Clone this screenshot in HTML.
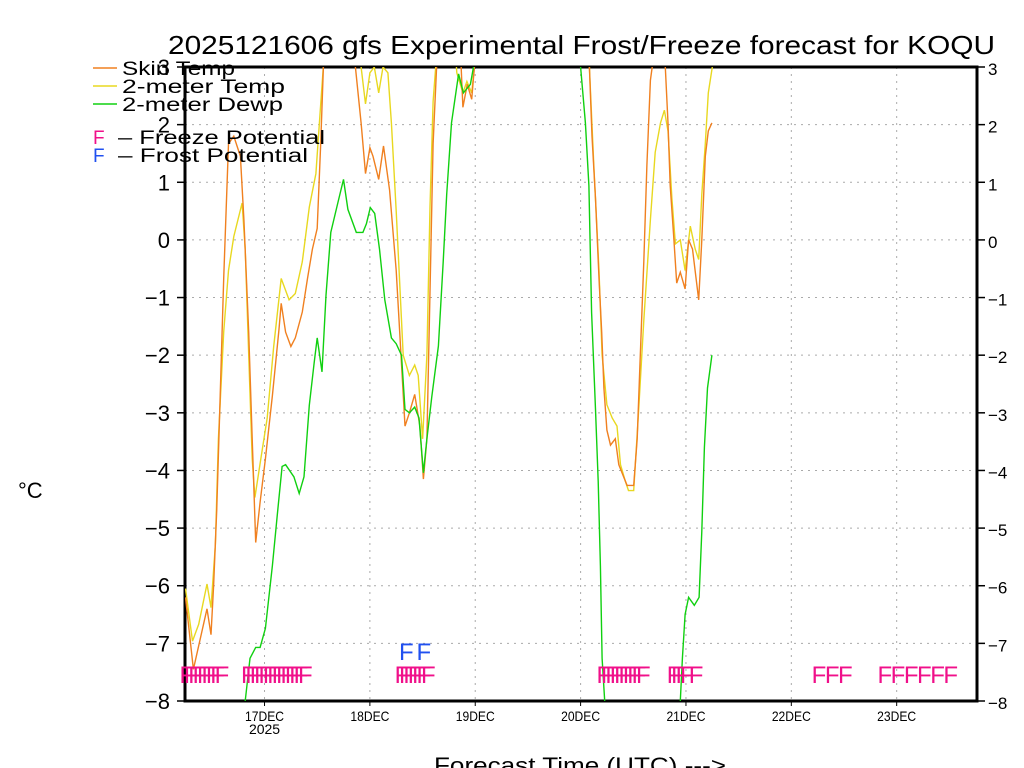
<!DOCTYPE html>
<html><head><meta charset="utf-8"><style>
html,body{margin:0;padding:0;background:#fff;}
svg{display:block;font-family:"Liberation Sans",sans-serif;}
</style></head><body>
<svg id="chart" width="1024" height="768" viewBox="0 0 1024 768" xmlns="http://www.w3.org/2000/svg">
<defs><clipPath id="plotclip"><rect x="185" y="67" width="792" height="634"/></clipPath></defs>
<rect width="1024" height="768" fill="#fff"/>
<text x="168" y="54" font-size="26" textLength="827" lengthAdjust="spacingAndGlyphs">2025121606 gfs Experimental Frost/Freeze forecast for KOQU</text>
<g id="grid"></g>
<g id="axes"></g>
<g id="series" clip-path="url(#plotclip)"></g>
<g id="marks"></g>
<g font-size="19">
<line x1="93" y1="68" x2="117" y2="68" stroke="#f08020" stroke-width="1.5"/>
<text x="122" y="75" textLength="113" lengthAdjust="spacingAndGlyphs">Skin Temp</text>
<line x1="93" y1="86" x2="117" y2="86" stroke="#e8d820" stroke-width="1.5"/>
<text x="122" y="93" textLength="163" lengthAdjust="spacingAndGlyphs">2-meter Temp</text>
<line x1="93" y1="104" x2="117" y2="104" stroke="#10d010" stroke-width="1.5"/>
<text x="122" y="111" textLength="161" lengthAdjust="spacingAndGlyphs">2-meter Dewp</text>
<text x="93" y="144" fill="#f0108a">F</text>
<text x="118" y="144" textLength="207" lengthAdjust="spacingAndGlyphs">– Freeze Potential</text>
<text x="93" y="162" fill="#2050f0">F</text>
<text x="118" y="162" textLength="190" lengthAdjust="spacingAndGlyphs">– Frost Potential</text>
</g>
<text x="18" y="498" font-size="22">°C</text>
<text x="434" y="773" font-size="22" textLength="292" lengthAdjust="spacingAndGlyphs">Forecast Time (UTC) ---&gt;</text>
</svg>
<script>
// hours since 16DEC 06Z
const skinHours1=[0,1.8,4.9,5.8,6.4,7.1,7.9,8.7,9.8,11,12.5,13.3,14.4,15.2,16,17,18.2,19.8,21.3,21.8,22.8,24,25,26.6,27.8,28.9,30,30.8,31.6,38,38.7,40,41,42,42.7,44,45.1,46.5,48,48.8,50,51,52.2,53.4,54.2,55,55.7,56.4,57.2,58,62.5,63.2,64.2,65.2,65.8,66.5];
const skinVals1=[-6.2,-7.45,-6.4,-6.85,-6,-4.7,-2.7,-0.67,1.67,1.8,1.45,0.35,-1.6,-3.45,-5.25,-4.55,-3.8,-2.7,-1.55,-1.1,-1.6,-1.85,-1.7,-1.25,-0.67,-0.16,0.2,1.67,3.4,3.4,3,2.03,1.15,1.6,1.45,1.05,1.63,0.86,-0.53,-1.6,-3.23,-3,-2.68,-3.23,-4.15,-3.45,-0.9,1.67,3,3.5,3.5,2.3,2.7,2.44,3,3.5];
const skinHours2=[91.5,92,92.3,92.6,93.4,94.2,94.8,95.3,96,96.8,97.9,98.7,99.8,100.6,102.1,102.9,103.6,104.4,105.1,105.9,106.3,107,108.5,109.3,109.9,110.4,111.2,111.9,112.7,113.8,114.6,115.5,116.9,117.6,118.4,119.1,119.9];
const skinVals2=[3.5,3,2.4,1.8,0.72,-0.67,-1.6,-2.57,-3.3,-3.56,-3.45,-3.9,-4.11,-4.26,-4.26,-3.45,-2,-0.38,1.3,2.77,3,3.5,3.5,3,2.03,0.94,0.06,-0.75,-0.56,-0.85,0,-0.16,-1.04,0,1.45,1.89,2.03];
const tempHours1=[0,1.6,3,4.9,5.8,6.8,7.5,8.7,9.8,11,12.9,13.6,14.4,15.2,15.8,17,18.6,20.1,21.8,23.6,25,26.6,28.2,29.7,30.5,31.4,32,39.5,40,41,42,43,44,45,46.1,46.9,48,49.6,51,52.2,53,54,55,55.7,56.4,57,57.5,61.3,61.8,63.2,64.1,65.2,65.8,66.5];
const tempVals1=[-6.05,-6.96,-6.67,-5.97,-6.38,-5.28,-3.45,-1.6,-0.53,0.06,0.64,-0.16,-1.99,-3.8,-4.47,-3.88,-3.09,-1.85,-0.67,-1.04,-0.93,-0.38,0.57,1.15,2.03,3,3.5,3.5,3,2.36,2.9,3,2.55,3,2.9,2.03,0.5,-2,-2.35,-2.17,-2.35,-3.45,-2,0.57,2.4,3,3.5,3.5,2.9,2.55,2.75,2.55,3,3.5];
const tempHours2=[91.5,92,93,94.2,94.9,96,97.2,98.3,99.1,100.2,100.9,102.1,103.2,104.4,105.9,107,108.2,109.1,109.9,110.8,111.6,112.7,113.8,115,116.1,116.9,117.6,118.4,119.1,120];
const tempVals2=[3.5,3,1.3,-0.53,-2,-2.86,-3.09,-3.23,-3.9,-4.19,-4.35,-4.35,-3,-1.4,0.35,1.52,2.03,2.25,1.89,0.72,-0.07,0,-0.53,0.24,-0.16,-0.34,0.79,1.67,2.55,3];
const dewHours1=[13.2,13.6,14.7,16,17,18.2,19.8,20.9,22,22.8,24.7,25.9,27,28.2,29.3,30,31.1,32,33.1,34.7,36,37,38.9,40.4,41.2,42.1,43.1,44.2,45.4,46.9,48,49.2,50,51,52.2,53.2,54.2,55,56.1,57.6,58.7,59.5,60.6,62.2,63.3,64.9,65.6,66.2];
const dewVals1=[-8.5,-8,-7.26,-7.07,-7.07,-6.74,-5.65,-4.77,-3.93,-3.9,-4.11,-4.4,-4.11,-2.87,-2.14,-1.7,-2.29,-0.96,0.13,0.64,1.05,0.53,0.13,0.13,0.28,0.56,0.46,-0.16,-1.04,-1.7,-1.8,-2,-2.94,-3,-2.9,-3.09,-4.04,-3.45,-2.72,-1.84,-0.38,0.79,2.03,2.88,2.55,2.7,3,3.5];
const dewHours2=[89.5,90,91.1,91.9,92.5,93.4,94,94.5,94.9,95.5,96];
const dewVals2=[3.5,3,2.03,0.94,-1.26,-2.94,-4.19,-5.65,-7.26,-8,-8.5];
const dewHours3=[112.3,112.7,113.2,113.8,114.6,115.9,117,117.6,118.2,118.9,119.9];
const dewVals3=[-8.5,-8,-7.26,-6.5,-6.2,-6.34,-6.2,-5.06,-3.6,-2.57,-2];
const freezeHours=[0,1,2,3,4,5,6,7,8,14,15,16,17,18,19,20,21,22,23,24,25,26,27,49,50,51,52,53,54,55,95,96,97,98,99,100,101,102,103,104,111,112,113,114,116,144,147,150,159,162,165,168,171,174];
const frostHours=[50,54];
const yTicks=[-8,-7,-6,-5,-4,-3,-2,-1,0,1,2,3];
const dayLabels=["17DEC","18DEC","19DEC","20DEC","21DEC","22DEC","23DEC"];
const dayHours=[18,42,66,90,114,138,162];

const NS="http://www.w3.org/2000/svg";
const X0=185.5,PXH=4.39,YT=67,YB=701,VMIN=-8,VMAX=3;
function xs(h){return X0+h*PXH;}
function ys(v){return YT+(VMAX-v)*(YB-YT)/(VMAX-VMIN);}
function mk(tag,attrs,parent){const e=document.createElementNS(NS,tag);for(const k in attrs)e.setAttribute(k,attrs[k]);parent.appendChild(e);return e;}
const grid=document.getElementById('grid'),axes=document.getElementById('axes'),series=document.getElementById('series'),marks=document.getElementById('marks');

yTicks.forEach(v=>{
  const y=ys(v);
  if(v>VMIN&&v<VMAX){const g=mk('line',{x1:185,x2:977,y1:y,y2:y,stroke:'#aaa','stroke-dasharray':'2,5'},grid);
  
  }
  const t1=mk('line',{x1:177,x2:185,y1:y,y2:y,stroke:'#000','stroke-width':1.5},axes);
  
  
  const t2=mk('line',{x1:977,x2:985,y1:y,y2:y,stroke:'#000','stroke-width':1.5},axes);
  
  
  const lab=(v<0?'\u2212':'')+Math.abs(v);
  const l1=mk('text',{x:170,y:y+8,'font-size':22,'text-anchor':'end'},axes);l1.textContent=lab;
  
  
  const l2=mk('text',{x:988,y:y+8,'font-size':17},axes);l2.textContent=lab;
  
  
});
dayHours.forEach((h,i)=>{
  const x=xs(h);
  const g=mk('line',{x1:x,x2:x,y1:YT,y2:YB,stroke:'#aaa','stroke-dasharray':'2,5'},grid);
  
  
  const t=mk('line',{x1:x,x2:x,y1:YB,y2:YB+5,stroke:'#000'},axes);
  
  
  const l=mk('text',{x:x,y:721,'font-size':14,'text-anchor':'middle',textLength:39,lengthAdjust:'spacingAndGlyphs'},axes);l.textContent=dayLabels[i];
  
  
});
const yr=mk('text',{x:xs(18),y:734,'font-size':14,'text-anchor':'middle'},axes);yr.textContent='2025';


const frame=mk('rect',{x:185,y:67,width:792,height:634,fill:'none',stroke:'#000','stroke-width':3},axes);



function line(hs,vs,color,name){
  const d=hs.map((h,i)=>(i?'L':'M')+xs(h).toFixed(1)+','+ys(vs[i]).toFixed(1)).join('');
  const p=mk('path',{d:d,fill:'none',stroke:color,'stroke-width':1.4},series);
  
  
}
line(tempHours1,tempVals1,'#e8d820','temp-line');
line(tempHours2,tempVals2,'#e8d820','temp-line');
line(skinHours1,skinVals1,'#f08020','skin-temp-line');
line(skinHours2,skinVals2,'#f08020','skin-temp-line');
line(dewHours1,dewVals1,'#10d010','dewpoint-line');
line(dewHours2,dewVals2,'#10d010','dewpoint-line');
line(dewHours3,dewVals3,'#10d010','dewpoint-line');

freezeHours.forEach(h=>{
  const t=mk('text',{x:xs(h)-6,y:683,'font-size':24,fill:'#f0108a'},marks);t.textContent='F';
  
  
});
frostHours.forEach(h=>{
  const t=mk('text',{x:xs(h)-6,y:660,'font-size':24,fill:'#2050f0'},marks);t.textContent='F';
  
  
});
</script>
</body></html>
